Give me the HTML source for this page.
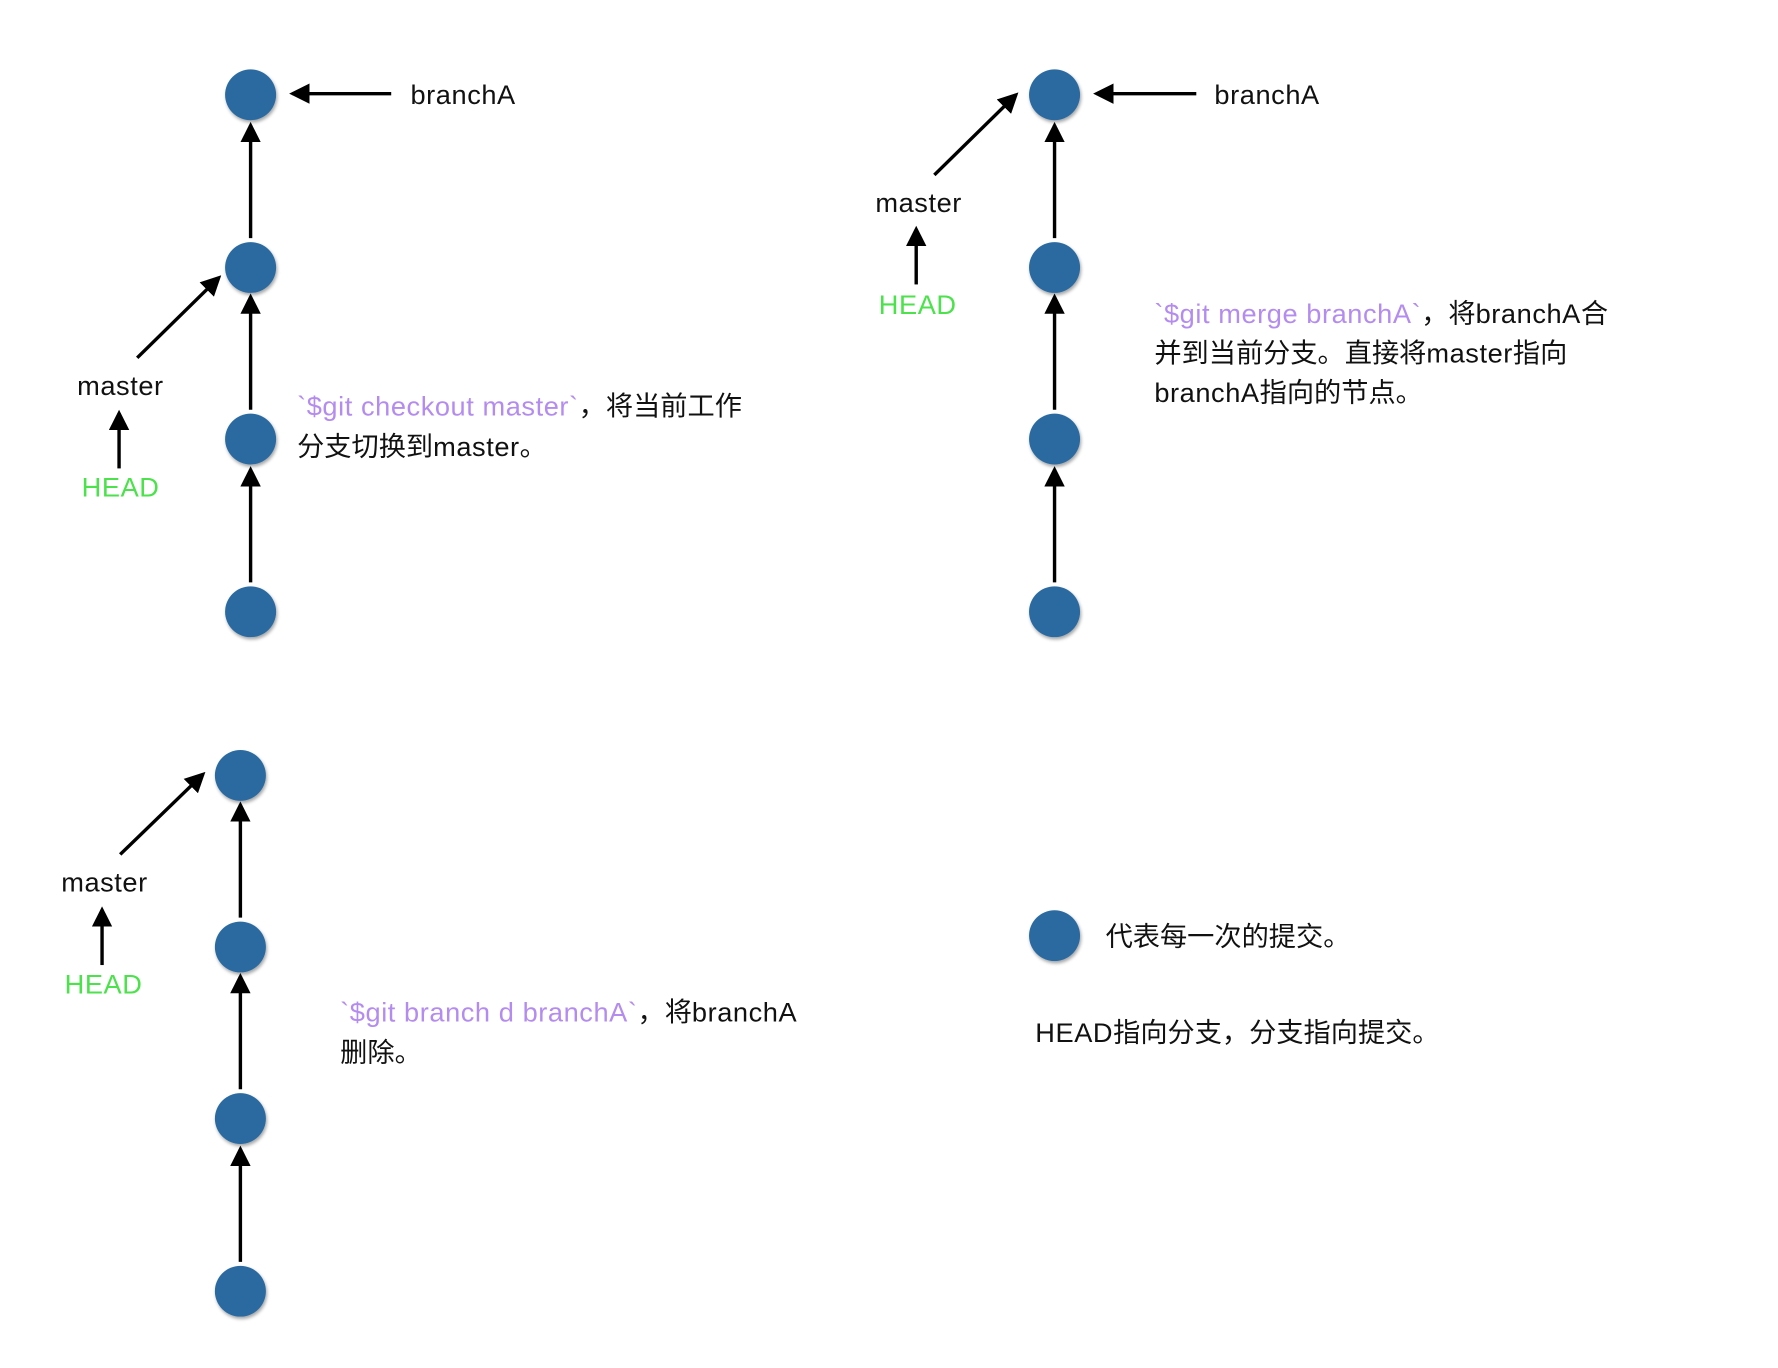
<!DOCTYPE html>
<html><head><meta charset="utf-8"><style>
html,body{margin:0;padding:0;background:#fff;}
svg{display:block;}
text{font-family:"Liberation Sans","Noto Sans CJK SC",sans-serif;font-size:24px;fill:#111;}
.l{letter-spacing:0.5px;}
.p{fill:#b48cf0;letter-spacing:0.5px;}
.g{fill:#4be24b;letter-spacing:0.5px;}
</style></head><body>
<svg width="1778" height="1368" viewBox="0 0 1568 1212" preserveAspectRatio="none" xmlns="http://www.w3.org/2000/svg">
<defs>
<marker id="a" markerWidth="6" markerHeight="6" refX="5" refY="3" orient="auto" markerUnits="strokeWidth">
<path d="M0,0 L6,3 L0,6 z" fill="#000"/>
</marker>
<filter id="s" x="-30%" y="-30%" width="170%" height="170%">
<feDropShadow dx="1" dy="2" stdDeviation="1.5" flood-color="#000" flood-opacity="0.35"/>
</filter>
<g id="n"><circle r="22.5" fill="#2c6aa0" filter="url(#s)"/></g>
</defs>
<g stroke="#000" stroke-width="3" fill="none" marker-end="url(#a)">
<line x1="221" y1="516" x2="221" y2="416"/>
<line x1="221" y1="363" x2="221" y2="263"/>
<line x1="221" y1="211" x2="221" y2="111"/>
<line x1="345" y1="83" x2="258" y2="83"/>
<line x1="121" y1="317" x2="193" y2="246"/>
<line x1="105" y1="415" x2="105" y2="366"/>
<line x1="930" y1="516" x2="930" y2="416"/>
<line x1="930" y1="363" x2="930" y2="263"/>
<line x1="930" y1="211" x2="930" y2="111"/>
<line x1="1055" y1="83" x2="967" y2="83"/>
<line x1="824" y1="155" x2="896" y2="84"/>
<line x1="808" y1="252" x2="808" y2="203"/>
<line x1="212" y1="1118" x2="212" y2="1018"/>
<line x1="212" y1="965" x2="212" y2="865"/>
<line x1="212" y1="813" x2="212" y2="713"/>
<line x1="106" y1="757" x2="179" y2="686"/>
<line x1="90" y1="855" x2="90" y2="806"/>
</g>
<use href="#n" x="221" y="84"/><use href="#n" x="221" y="237"/><use href="#n" x="221" y="389"/><use href="#n" x="221" y="542"/>
<use href="#n" x="930" y="84"/><use href="#n" x="930" y="237"/><use href="#n" x="930" y="389"/><use href="#n" x="930" y="542"/>
<use href="#n" x="212" y="687"/><use href="#n" x="212" y="839"/><use href="#n" x="212" y="991"/><use href="#n" x="212" y="1144"/>
<use href="#n" x="930" y="829"/>
<text x="362" y="92" class="l">branchA</text>
<text x="68" y="350" class="l">master</text>
<text x="72" y="440" class="g">HEAD</text>
<text x="262" y="368"><tspan class="p">`$git checkout master`</tspan>，将当前工作</text>
<text x="262" y="404"><tspan>分支切换到</tspan><tspan class="l">master</tspan>。</text>
<text x="1071" y="92" class="l">branchA</text>
<text x="772" y="188" class="l">master</text>
<text x="775" y="278" class="g">HEAD</text>
<text x="1018" y="286"><tspan class="p">`$git merge branchA`</tspan>，将<tspan class="l">branchA</tspan>合</text>
<text x="1018" y="321">并到当前分支。直接将<tspan class="l">master</tspan>指向</text>
<text x="1018" y="356"><tspan class="l">branchA</tspan>指向的节点。</text>
<text x="54" y="790" class="l">master</text>
<text x="57" y="880" class="g">HEAD</text>
<text x="300" y="905"><tspan class="p">`$git branch d branchA`</tspan>，将<tspan class="l">branchA</tspan></text>
<text x="300" y="941">删除。</text>
<text x="975" y="838">代表每一次的提交。</text>
<text x="913" y="923"><tspan class="l">HEAD</tspan>指向分支，分支指向提交。</text>
</svg>
</body></html>
